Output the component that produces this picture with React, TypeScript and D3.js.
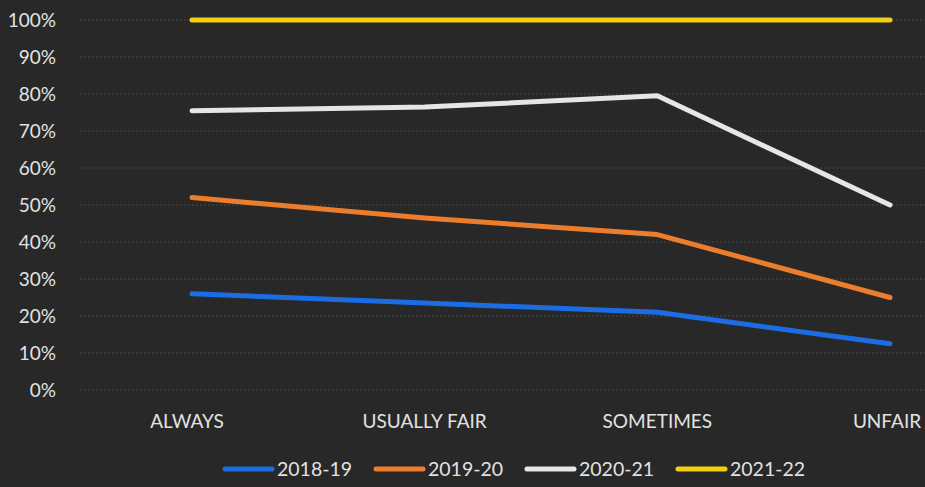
import { line, scaleLinear, scalePoint } from "d3";

const categories = ["ALWAYS", "USUALLY FAIR", "SOMETIMES", "UNFAIR"];
const seriesNames = ["2018-19", "2019-20", "2020-21", "2021-22"];
const values2018 = [26, 23.5, 21, 12.5];
const values2019 = [52, 46.5, 42, 25];
const values2020 = [75.5, 76.5, 79.5, 50];
const values2021 = [100, 100, 100, 100];
const yTicks = [0, 10, 20, 30, 40, 50, 60, 70, 80, 90, 100];

const colors = ["#1c6de4", "#ec7d2c", "#e6e6e6", "#f2cf14"];
const allSeries = [values2018, values2019, values2020, values2021];

const W = 925;
const H = 487;
const font = "Lato, 'Open Sans', sans-serif";
const textColor = "#e2e2e2";

const App = () => {
  const x = scalePoint<string>().domain(categories).range([192, 890]);
  const y = scaleLinear().domain([0, 100]).range([390, 20]);

  const path = line<number>()
    .x((_, i) => x(categories[i])!)
    .y((d) => y(d));

  const labelShift: Record<string, number> = { ALWAYS: -5, UNFAIR: -3 };

  return (
    <div style={{ position: "fixed", left: 0, top: 0 }}>
      <svg width={W} height={H} style={{ display: "block" }}>
        <rect width={W} height={H} fill="#282828" />
        {yTicks.map((t) => (
          <g key={t}>
            <line
              x1={80}
              x2={W}
              y1={y(t)}
              y2={y(t)}
              stroke="#484848"
              strokeWidth={1}
              strokeDasharray="2,2"
            />
            <text
              x={56}
              y={y(t)}
              dy="0.35em"
              textAnchor="end"
              fill={textColor}
              fontFamily={font}
              fontSize={19}
            >
              {t}%
            </text>
          </g>
        ))}
        {categories.map((c) => (
          <text
            key={c}
            x={x(c)! + (labelShift[c] ?? 0)}
            y={428}
            textAnchor="middle"
            fill={textColor}
            fontFamily={font}
            fontSize={19}
          >
            {c}
          </text>
        ))}
        {allSeries.map((s, i) => (
          <path
            key={seriesNames[i]}
            d={path(s)!}
            fill="none"
            stroke={colors[i]}
            strokeWidth={5}
            strokeLinecap="round"
            strokeLinejoin="round"
          />
        ))}
        {seriesNames.map((n, i) => (
          <g key={n} transform={`translate(${225 + i * 151},469)`}>
            <line x1={0} x2={47} y1={0} y2={0} stroke={colors[i]} strokeWidth={5} strokeLinecap="round" />
            <text x={52} y={0} dy="0.35em" fill={textColor} fontFamily={font} fontSize={19.5}>
              {n}
            </text>
          </g>
        ))}
      </svg>
    </div>
  );
};

export default App;
